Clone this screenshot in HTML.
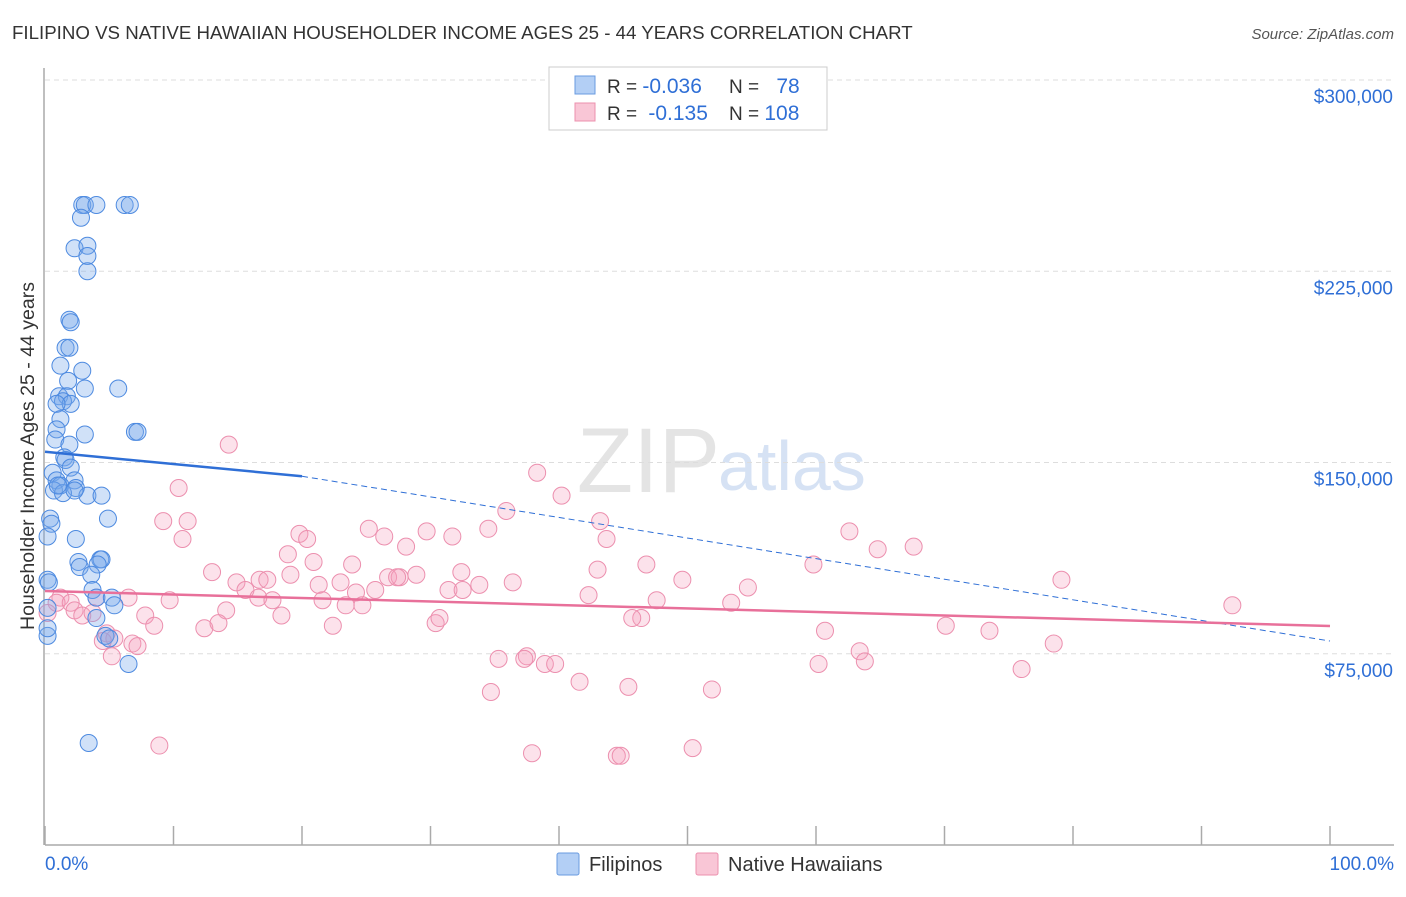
<!DOCTYPE html>
<html><head><meta charset="utf-8"><style>
body{margin:0;background:#fff;font-family:"Liberation Sans",sans-serif;}
svg text{font-family:"Liberation Sans",sans-serif;}
</style></head><body>
<svg id="c" width="1406" height="892">
<text x="12" y="39" font-size="18.7" fill="#333">FILIPINO VS NATIVE HAWAIIAN HOUSEHOLDER INCOME AGES 25 - 44 YEARS CORRELATION CHART</text>
<text x="1394" y="39" font-size="15" fill="#555" font-style="italic" text-anchor="end">Source: ZipAtlas.com</text>
<text x="720" y="492" font-size="92" fill="#e4e4e4" text-anchor="end" font-family="Liberation Serif">ZIP</text>
<text x="718" y="490" font-size="70" fill="#d6e2f4">atlas</text>
<text transform="translate(34,456) rotate(-90)" font-size="19.5" fill="#333" text-anchor="middle">Householder Income Ages 25 - 44 years</text>
<g id="grid"></g><g id="pts"></g><g id="trend"></g>
<g>
<rect x="549" y="67" width="278" height="63" fill="#fff" stroke="#ccc"/>
<rect x="575" y="76" width="20" height="18" fill="#b3cff5" stroke="#6a9be0"/>
<rect x="575" y="103" width="20" height="18" fill="#f9c6d6" stroke="#ec90ae"/>
<text x="607" y="93" font-size="19" fill="#333">R = <tspan fill="#2f6fd6" font-size="21">-0.036</tspan></text>
<text x="729" y="93" font-size="19" fill="#333">N = <tspan fill="#2f6fd6" dx="12" font-size="21">78</tspan></text>
<text x="607" y="120" font-size="19" fill="#333">R = <tspan fill="#2f6fd6" dx="6" font-size="21">-0.135</tspan></text>
<text x="729" y="120" font-size="19" fill="#333">N = <tspan fill="#2f6fd6" font-size="21">108</tspan></text>
</g>
<g>
<rect x="557" y="853" width="22" height="22" fill="#b3cff5" stroke="#6a9be0" rx="2"/>
<text x="589" y="871" font-size="20" fill="#333">Filipinos</text>
<rect x="696" y="853" width="22" height="22" fill="#f9c6d6" stroke="#ec90ae" rx="2"/>
<text x="728" y="871" font-size="20" fill="#333">Native Hawaiians</text>
</g>
</svg>
<script>
const yTicks=[75,150,225,300];
const yTickLabels=["$75,000","$150,000","$225,000","$300,000"];
const xTicks=[0,10,20,30,40,50,60,70,80,90,100];
const blueX=[2.9,3.1,4.0,6.2,6.6,2.8,2.3,3.3,3.3,3.3,1.9,2.0,1.6,1.9,1.2,2.9,1.8,5.7,3.1,1.1,1.7,1.4,2.0,0.9,1.2,7.0,7.2,0.9,3.1,0.8,1.9,1.5,1.6,2.0,0.6,0.9,2.3,1.2,2.4,0.7,1.4,3.3,4.4,2.3,4.9,0.4,0.5,0.2,2.4,2.6,4.3,4.4,4.1,2.7,3.6,0.2,0.3,3.7,4.0,5.2,5.4,4.0,0.2,0.2,4.7,5.0,6.5,3.4,0.2,1.0];
const blueY=[251,251,251,251,251,246,234,235,231,225,206,205,195,195,188,186,182,179,179,176,176,174,173,173,167,162,162,163,161,159,157,152,151,148,146,143,143,141,140,139,138,137,137,139,128,128,126,121,120,111,112,112,110,109,106,104,103,100,97,97,94,89,93,82,82,81,71,40,85,141];
const pinkX=[14.3,10.4,38.3,40.2,35.9,43.2,34.5,9.2,11.1,10.7,19.8,20.4,25.2,26.4,29.7,31.7,43.7,62.6,64.8,67.6,18.9,20.9,23.9,28.1,59.8,13.0,14.9,16.7,19.1,21.3,23.0,26.7,27.6,28.9,27.4,32.4,33.8,36.4,43.0,46.8,49.6,54.7,79.1,15.6,17.3,16.6,17.7,24.2,25.7,31.4,32.5,42.3,47.6,53.4,92.4,21.6,23.4,24.7,9.7,7.8,14.1,8.5,12.4,13.5,18.4,22.4,30.4,30.7,46.4,60.7,70.1,73.5,78.5,4.8,4.5,5.4,6.8,7.2,5.2,45.7,63.4,63.8,60.2,37.5,38.9,39.7,35.3,37.3,41.6,45.4,51.9,76.0,34.7,8.9,37.9,44.5,44.8,50.4,1.2,0.9,2.0,0.2,2.3,2.9,3.7,4.0,6.5];
const pinkY=[157,140,146,137,131,127,124,127,127,120,122,120,124,121,123,121,120,123,116,117,114,111,110,117,110,107,103,104,106,102,103,105,105,106,105,107,102,103,108,110,104,101,104,100,104,97,96,99,100,100,100,98,96,95,94,96,94,94,96,90,92,86,85,87,90,86,87,89,89,84,86,84,79,83,80,81,79,78,74,89,76,72,71,74,71,71,73,73,64,62,61,69,60,39,36,35,35,38,97,95,95,91,92,90,91,97,97];
const blueTrendX=[0,20,100];
const blueTrendY=[154.2,144.6,80];
const pinkTrendX=[0,100];
const pinkTrendY=[99.6,85.9];
const X0=45,X1=1330,YB=845,YT=80;
const xs=p=>X0+(X1-X0)*p/100;
const ys=v=>YB-(YB-YT)*v/300;
const NS="http://www.w3.org/2000/svg";
function mk(tag,attrs,parent){const e=document.createElementNS(NS,tag);for(const k in attrs)e.setAttribute(k,attrs[k]);parent.appendChild(e);return e;}
const g=document.getElementById('grid');
yTicks.forEach((t,i)=>{
 const l=mk('line',{x1:X0,x2:1394,y1:ys(t),y2:ys(t),stroke:'#ddd','stroke-dasharray':'5,4'},g);
 
 
 const tx=mk('text',{x:1393,y:ys(t)+23,'font-size':19,fill:'#2f6fd6','text-anchor':'end'},g);
 tx.textContent=yTickLabels[i];
 
 
});
const ax=mk('line',{x1:X0-1,x2:X0-1,y1:68,y2:YB,stroke:'#aaa','stroke-width':1.5},g);


const bx=mk('line',{x1:X0,x2:1394,y1:YB,y2:YB,stroke:'#aaa','stroke-width':1.5},g);


xTicks.forEach(t=>{const l=mk('line',{x1:xs(t),x2:xs(t),y1:826,y2:YB,stroke:'#aaa','stroke-width':1.5},g);
 
 });
const t0=mk('text',{x:45,y:870,'font-size':19,fill:'#2f6fd6'},g);t0.textContent='0.0%';


const t1=mk('text',{x:1394,y:870,'font-size':19,fill:'#2f6fd6','text-anchor':'end'},g);t1.textContent='100.0%';


const P=document.getElementById('pts');
pinkX.forEach((x,i)=>{const c=mk('circle',{cx:xs(x),cy:ys(pinkY[i]),r:8.5,fill:'rgba(244,160,188,0.3)',stroke:'#ec8fae','stroke-width':1},P);
 
 });
blueX.forEach((x,i)=>{const c=mk('circle',{cx:xs(x),cy:ys(blueY[i]),r:8.5,fill:'rgba(120,170,235,0.35)',stroke:'#4d8ae0','stroke-width':1},P);
 
 });
const T=document.getElementById('trend');
const b1=mk('line',{x1:xs(blueTrendX[0]),y1:ys(blueTrendY[0]),x2:xs(blueTrendX[1]),y2:ys(blueTrendY[1]),stroke:'#2f6fd6','stroke-width':2.5},T);


const b2=mk('line',{x1:xs(blueTrendX[1]),y1:ys(blueTrendY[1]),x2:xs(blueTrendX[2]),y2:ys(blueTrendY[2]),stroke:'#2f6fd6','stroke-width':1,'stroke-dasharray':'6,4'},T);


const p1=mk('line',{x1:xs(pinkTrendX[0]),y1:ys(pinkTrendY[0]),x2:xs(pinkTrendX[1]),y2:ys(pinkTrendY[1]),stroke:'#e8709a','stroke-width':2.5},T);


</script>
</body></html>
